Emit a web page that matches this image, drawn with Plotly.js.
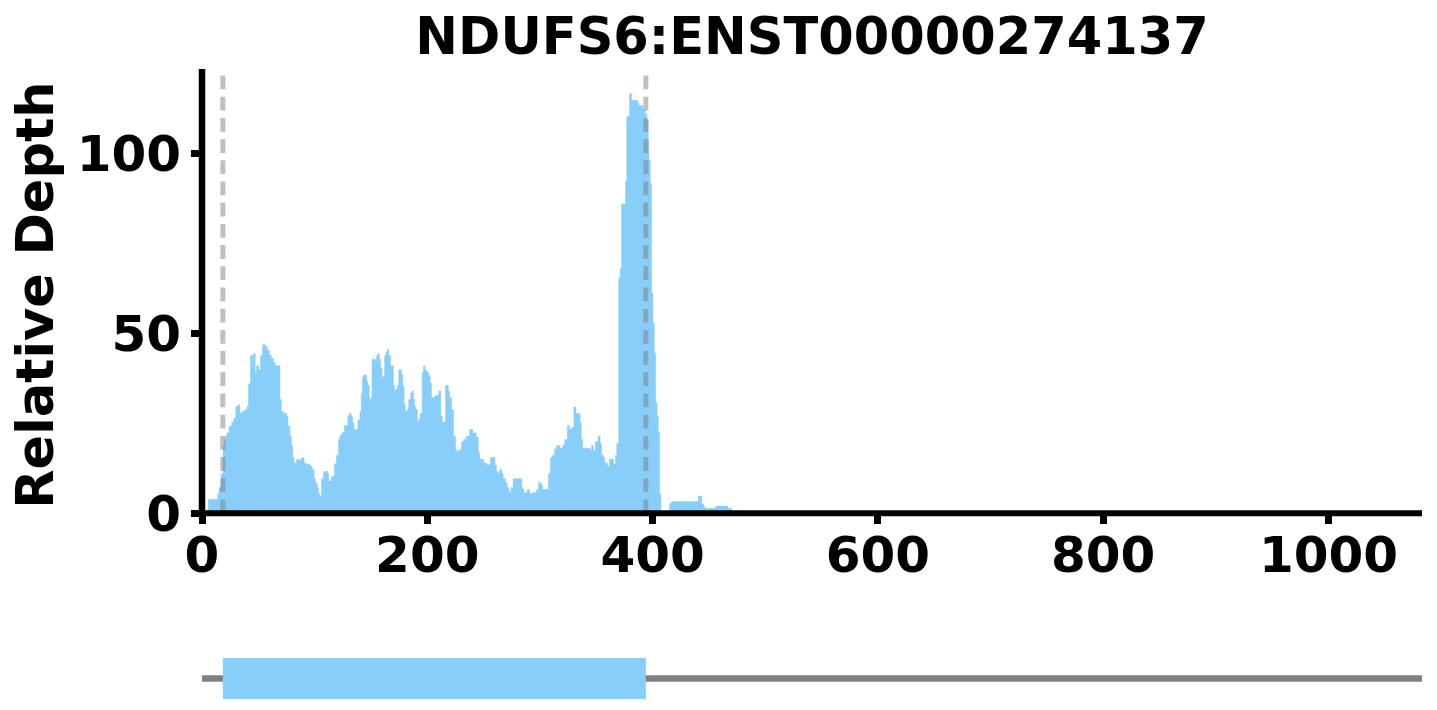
<!DOCTYPE html>
<html><head><meta charset="utf-8">
<script src="https://cdn.plot.ly/plotly-3.0.1.min.js"></script>
<style>html,body{margin:0;padding:0;background:#fff;} #chart{width:1437px;height:710px;}</style>
</head><body><div id="chart"></div>
<script>
const chartTitle = "NDUFS6:ENST00000274137";
const yTitle = "Relative Depth";
const txLength = 1083;
const cdsRange = [18.5, 394];
const xTicks = [0, 200, 400, 600, 800, 1000];
const yTicks = [0, 50, 100];
const yMax = 123.4;

// coverage steps: start position of each step and the relative depth held until the next step
const stepStart = [
  0, 4.2, 5.6, 13.7, 15.1, 16.9, 18.7, 19.9, 21.1, 22.3,
  24.1, 26.4, 28.2, 30, 31.8, 33.6, 35.3, 38.3, 40.1, 41.3,
  43.1, 44.8, 45.4, 47.2, 48.4, 50.2, 52, 53.7, 56.1, 57.9,
  59.7, 61.5, 63.3, 65, 69.2, 70.4, 72.2, 75.1, 76.3, 78.1,
  79.3, 80.5, 81.7, 84, 85.8, 88.2, 90.6, 92.4, 95.9, 97.7,
  99.5, 100.7, 102.4, 103.6, 104.8, 106, 107.8, 111.4, 112.5, 114.9,
  117.6, 118.8, 119.4, 121.2, 122.3, 123.5, 124.7, 126.5, 129.5, 130.7,
  132.4, 133.6, 134.8, 138.4, 140.2, 141.4, 142.5, 143.7, 146.1, 147.3,
  148.5, 149.7, 150.9, 153.8, 155, 156.2, 157.4, 158.6, 159.8, 162.1,
  163.3, 164.5, 165.7, 167.5, 169.9, 171, 172.2, 173.4, 174.6, 177,
  178.2, 179.4, 180.5, 182.3, 183.5, 185.3, 186.5, 187.7, 188.9, 190,
  191.2, 192.4, 193.6, 195.4, 196.6, 197.8, 199.6, 201.3, 202.5, 203.7,
  206.7, 210.2, 212, 213.2, 216.2, 218.6, 219.8, 221.5, 223.3, 225.1,
  226.9, 228.1, 230.4, 232.2, 234.6, 237.6, 240.5, 243.5, 245.3, 246.5,
  250, 252.4, 256, 260.1, 261.3, 263.1, 264.3, 266.1, 267.3, 269.6,
  270.8, 272, 273.2, 274.4, 276.2, 283.9, 285.1, 285.7, 288.6, 290.4,
  292.2, 293.4, 297, 298.7, 301.1, 302.3, 307.6, 309.4, 311.2, 313,
  314.8, 317.7, 320.1, 321.9, 324.3, 326.1, 327.8, 330.2, 332, 335.6,
  336.7, 337.9, 344.5, 345.7, 347.4, 349.2, 351.6, 353.4, 354.6, 356.3,
  357.5, 359.9, 361.7, 365.3, 367, 368.2, 370, 371.2, 372.4, 375.9,
  377.1, 379.5, 381.3, 386.6, 387.8, 391.4, 393.2, 394.9, 396.1, 396.7,
  397.9, 399.1, 400.3, 401.5, 402.7, 403.9, 405, 406.2, 407.4, 415.1,
  416.9, 440.7, 443.6, 445.4, 446.6, 456.1, 466.8, 470.4
];
const depth = [
  0, 0.5, 3.9, 5.3, 7.2, 11, 18.6, 20.5, 21.6, 22.4,
  24.2, 25.3, 26.3, 29.6, 30.1, 27.7, 28.3, 28.8, 29.7, 36,
  43.8, 41.8, 44.3, 39, 41, 40, 43.8, 46.8, 46.3, 45.2,
  44, 43, 41.9, 41, 31.6, 28.3, 27.7, 27, 24.2, 21.4,
  18.8, 15.5, 14, 15, 14.8, 15.4, 14, 13.6, 13.1, 12.2,
  9.6, 8.3, 7, 5.3, 4.8, 9.6, 11.6, 11, 9, 10.3,
  13.6, 14.2, 16.1, 20.5, 21.4, 22, 22.5, 24.4, 27.1, 27.7,
  27, 25.3, 23.3, 25.9, 28.3, 33.4, 37.9, 38.4, 36.6, 35.5,
  31.6, 32.1, 42.8, 42.3, 43.8, 44.3, 42.8, 40.4, 37.9, 43.8,
  44.7, 45.6, 43.8, 41, 35.5, 34, 34.5, 35.5, 39.9, 38.6,
  35.3, 30.1, 28.3, 28.8, 31.6, 33.4, 34, 31.6, 29.5, 28.8,
  25.3, 26.2, 27.7, 39.1, 41, 39.9, 39.1, 38.2, 36.2, 32.1,
  32.7, 34, 27.1, 25.3, 35.5, 34, 32.1, 28.8, 21.4, 17.5,
  17, 17.7, 19.9, 20.5, 21.4, 23.3, 22.3, 21.2, 16.8, 15,
  14, 13.5, 15.5, 13.5, 11.6, 11.1, 12.2, 11.1, 9.6, 8.5,
  7.2, 6.6, 5.7, 7.2, 9.6, 7.2, 6.6, 5.7, 6.6, 5.7,
  5.2, 5.7, 6.6, 8.5, 7.8, 6.6, 11.1, 15.5, 16.1, 17.9,
  18.8, 18.1, 18.8, 20.5, 24.4, 23.3, 23.8, 29.5, 27.7, 25.3,
  20.5, 18.1, 17.5, 18.8, 17.5, 19.9, 21.4, 19.4, 16.1, 15.5,
  14, 13.1, 15, 13.7, 16.1, 19.4, 65.4, 68, 85.9, 92.3,
  110.2, 116.5, 114.7, 114.1, 113.2, 112.1, 111, 109.1, 103.6, 98.1,
  91.6, 61.1, 52.8, 44.5, 30.7, 27.1, 22.5, 5.3, 0, 2.8,
  3.3, 4.8, 2.5, 1.8, 1.4, 2.0, 1.4, 0
];

const FONT = 'DejaVu Sans, Liberation Sans, sans-serif';
const BLUE = '#87CEFA';
const tickFont = {family: FONT, size: 50, weight: 'bold', color: '#000'};

const traces = [
  {
    type: 'scatter', mode: 'lines', x: stepStart, y: depth,
    line: {shape: 'hv', width: 0.5, color: BLUE},
    fill: 'tozeroy', fillcolor: BLUE, hoverinfo: 'skip', xaxis: 'x', yaxis: 'y'
  },
  {
    type: 'scatter', mode: 'lines', x: [0, txLength], y: [0, 0],
    line: {color: '#808080', width: 6.5}, hoverinfo: 'skip', xaxis: 'x2', yaxis: 'y2'
  },
  {
    type: 'scatter', mode: 'lines',
    x: [cdsRange[0], cdsRange[1], cdsRange[1], cdsRange[0], cdsRange[0]],
    y: [-0.77, -0.77, 0.77, 0.77, -0.77],
    fill: 'toself', fillcolor: BLUE, line: {width: 0, color: BLUE},
    hoverinfo: 'skip', xaxis: 'x2', yaxis: 'y2'
  }
];

const shapes = cdsRange.map(c => ({
  type: 'line', xref: 'x', yref: 'y', x0: c, x1: c, y0: 0, y1: yMax,
  line: {color: 'rgba(128,128,128,0.5)', width: 5, dash: '13.8px,7.4px'}
}));
shapes.push({type: 'line', xref: 'paper', yref: 'y domain', x0: -0.003, x1: 1, y0: 0, y1: 0,
  line: {color: '#000', width: 6}});
shapes.push({type: 'line', xref: 'paper', yref: 'y domain', x0: 0, x1: 0, y0: -0.01, y1: 1,
  line: {color: '#000', width: 6.5}});

const layout = {
  width: 1437, height: 710,
  margin: {l: 202, r: 15, t: 69, b: 5},
  paper_bgcolor: '#fff', plot_bgcolor: 'rgba(0,0,0,0)',
  showlegend: false,
  title: {text: chartTitle, font: {family: FONT, size: 51, weight: 'bold', color: '#000'},
    x: 0.5, xref: 'paper', xanchor: 'center', y: 0.949, yref: 'container', yanchor: 'middle'},
  xaxis: {domain: [0, 1], anchor: 'y', range: [0, txLength], tickmode: 'array', tickvals: xTicks,
    ticks: 'outside', ticklen: 10, tickwidth: 7, tickcolor: '#000', showgrid: false, zeroline: false,
    showline: false, tickfont: tickFont, ticklabelstandoff: -12, fixedrange: true},
  yaxis: {domain: [0.3014, 1], anchor: 'x', range: [0, yMax], tickmode: 'array', tickvals: yTicks,
    ticks: 'outside', ticklen: 10, tickwidth: 7, tickcolor: '#000', showgrid: false, zeroline: false,
    showline: false, tickfont: tickFont, fixedrange: true},
  xaxis2: {domain: [0, 1], anchor: 'y2', matches: 'x', visible: false, fixedrange: true},
  yaxis2: {domain: [0, 0.0833], anchor: 'x2', range: [-1, 1], visible: false, fixedrange: true},
  shapes: shapes,
  annotations: [{text: yTitle, textangle: -90, xref: 'paper', yref: 'paper', x: -0.1363, y: 0.6447,
    xanchor: 'center', yanchor: 'middle', showarrow: false,
    font: {family: FONT, size: 51, weight: 'bold', color: '#000'}}]
};

Plotly.newPlot('chart', traces, layout, {displayModeBar: false, staticPlot: true});
</script>
</body></html>
